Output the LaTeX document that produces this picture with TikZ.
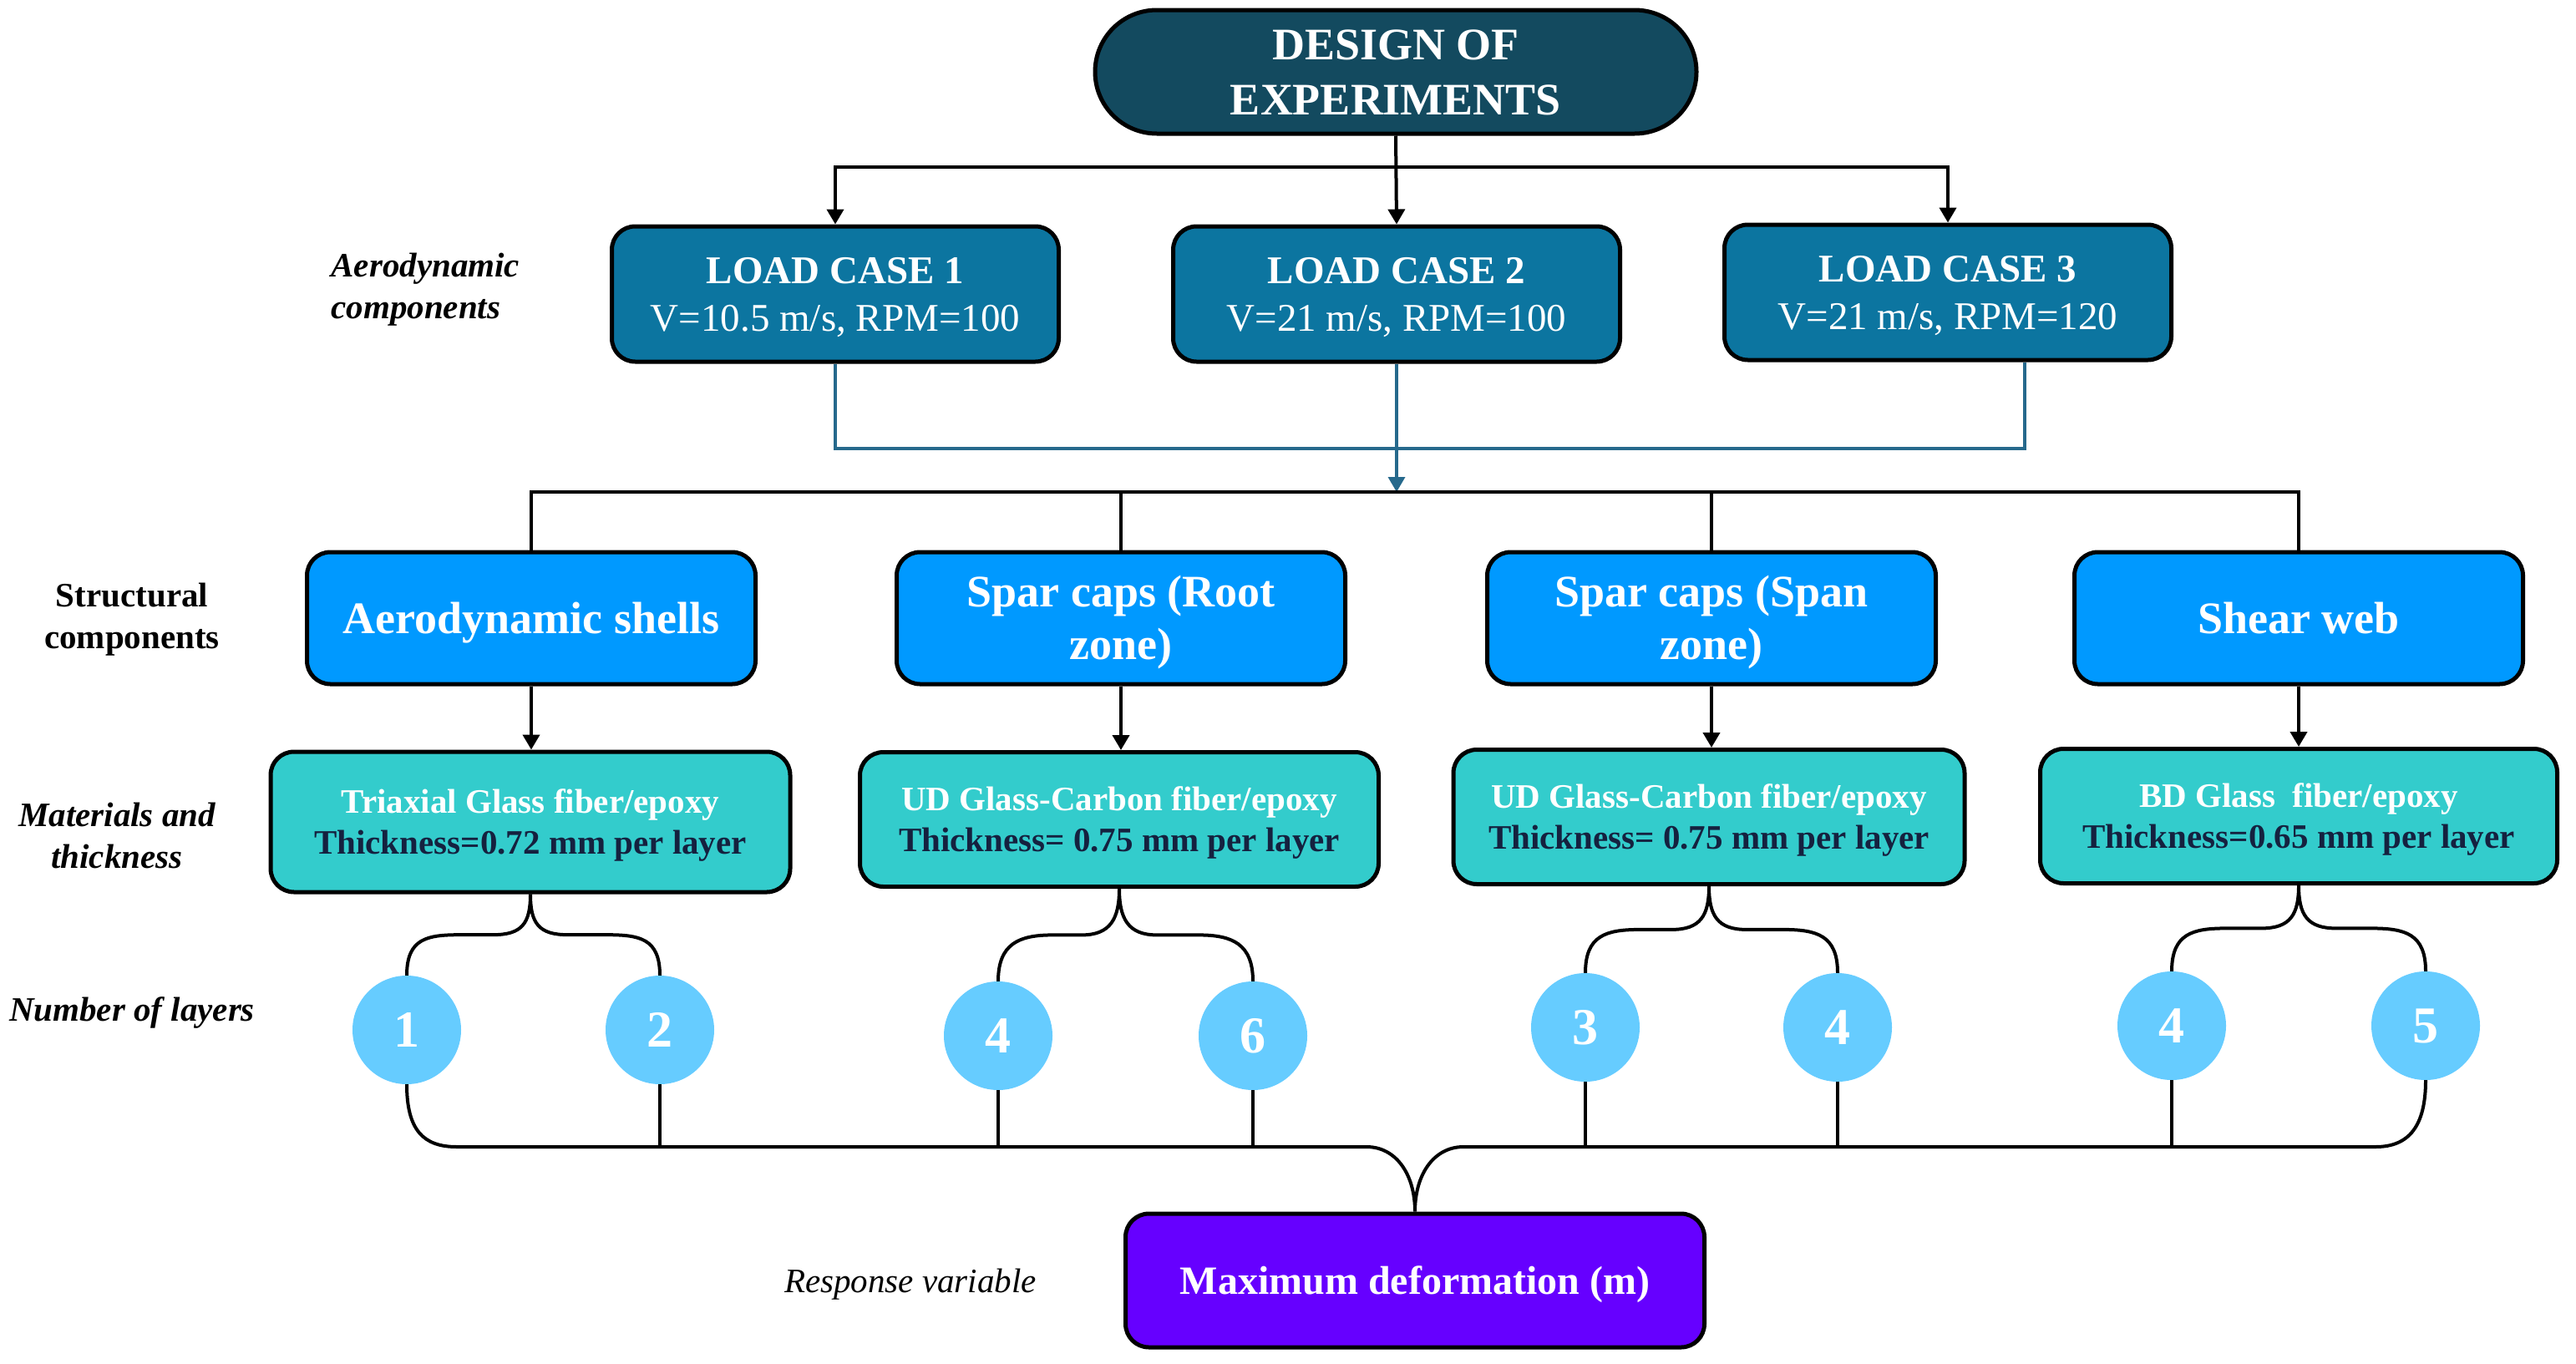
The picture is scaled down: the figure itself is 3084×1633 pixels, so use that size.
\documentclass[tikz,border=0pt]{standalone}
\usepackage{fontspec}
\setmainfont{Liberation Serif}
\usetikzlibrary{arrows.meta,calc}
\definecolor{doe}{HTML}{134A5F}
\definecolor{lcc}{HTML}{0C75A0}
\definecolor{scc}{HTML}{0099FF}
\definecolor{mtc}{HTML}{33CCCC}
\definecolor{cir}{HTML}{66CCFF}
\definecolor{pur}{HTML}{6600FF}
\definecolor{tlc}{HTML}{26698C}
\definecolor{navy}{HTML}{15213F}
\newcommand\myfs[2]{\fontsize{#1}{#2}\selectfont}
\tikzset{
  boxbase/.style={draw=black, line width=5pt, rounded corners=28pt, align=center, inner sep=0pt, text=white},
  doebox/.style={boxbase, fill=doe, minimum width=720pt, minimum height=148pt, rounded corners=74pt, font={\myfs{54}{66}\bfseries}, text height=102pt, text depth=0pt},
  lcbox/.style={boxbase, fill=lcc, minimum width=535pt, minimum height=162pt, font={\myfs{47}{57}}, text height=88pt, text depth=0pt},
  scbox/.style={boxbase, fill=scc, minimum width=537pt, minimum height=158pt, font={\myfs{54}{63}\bfseries}, text height=36pt, text depth=0pt},
  twoline/.style={text height=99pt},
  mtbox/.style={boxbase, fill=mtc, minimum height=161pt, font={\myfs{41}{49}\bfseries}, text height=76pt, text depth=0pt},
  circ/.style={circle, fill=cir, minimum size=130pt, inner sep=0pt, text=white, font={\myfs{62}{62}\bfseries}},
  pvbox/.style={boxbase, fill=pur, minimum width=693pt, minimum height=160pt, font={\myfs{48}{58}\bfseries}, text height=32pt, text depth=0pt},
  lbl/.style={font={\myfs{41}{50}\bfseries\itshape}, align=center, text=black},
  line/.style={draw=black, line width=4pt},
  tip/.style={-{Triangle[length=18pt,width=20pt]}},
  tline/.style={draw=tlc, line width=3.5pt},
}
\newcommand\topbrace[3]{%
  \coordinate (mid) at ($(#1.south)!0.5!(#2.north)$);
  \draw[line] (#2.north) .. controls +(0,-45) and +(-40,0) .. ($(#2.north|-mid)+(65,0)$)
    -- ($(#1.south|-mid)+(-45,0)$) .. controls +(35,0) and +(0,35) .. (#1.south)
    .. controls +(0,35) and +(-35,0) .. ($(#1.south|-mid)+(45,0)$)
    -- ($(#3.north|-mid)+(-65,0)$) .. controls +(40,0) and +(0,-45) .. (#3.north);
}
\begin{document}
\begin{tikzpicture}[x=1pt, y=-1pt]
\fill[white] (0,0) rectangle (3084,1633);
\useasboundingbox (0,0) rectangle (3084,1633);

% top
\node[doebox] (doe) at (1671,86) {DESIGN OF\\EXPERIMENTS};
\node[lcbox] (lc1) at (1000,352) {\textbf{LOAD CASE 1}\\V=10.5 m/s, RPM=100};
\node[lcbox] (lc2) at (1672,352) {\textbf{LOAD CASE 2}\\V=21 m/s, RPM=100};
\node[lcbox] (lc3) at (2332,350) {\textbf{LOAD CASE 3}\\V=21 m/s, RPM=120};
\node[lbl, align=left, anchor=west] (la) at (393,347) {Aerodynamic\\components};

\coordinate (h1) at (1671,200);
\draw[line, {Triangle[length=18pt,width=20pt]}-{Triangle[length=18pt,width=20pt]}] (lc1.north) -- (lc1.north|-h1) -- (lc3.north|-h1) -- (lc3.north);
\draw[line, tip] (doe.south) -- (lc2.north);

% teal connectors
\coordinate (t3) at (2424,537);
\draw[tline] (lc1.south) |- (t3) -- (t3|-lc3.south);
\coordinate (sbus) at (1694,589);
\draw[tline, -{Triangle[length=18pt,width=20pt]}] (lc2.south) -- (lc2.south|-sbus);

% structural
\node[scbox] (s1) at (636,740) {Aerodynamic shells};
\node[scbox, twoline] (s2) at (1342,740) {Spar caps (Root\\zone)};
\node[scbox, twoline] (s3) at (2049,740) {Spar caps (Span\\zone)};
\node[scbox] (s4) at (2752,740) {Shear web};
\node[lbl, font={\myfs{41}{50}\bfseries}] (ls) at (158,742) {Structural\\components};

\draw[line] (s1.north) -- (s1.north|-sbus) -- (s4.north|-sbus) -- (s4.north);
\draw[line] (s2.north) -- (s2.north|-sbus);
\draw[line] (s3.north) -- (s3.north|-sbus);

% materials
\node[mtbox, minimum width=622pt, minimum height=168pt] (m1) at (635,984) {Triaxial Glass fiber/epoxy\\\textcolor{navy}{Thickness=0.72 mm per layer}};
\node[mtbox, minimum width=621pt] (m2) at (1340,981) {UD Glass-Carbon fiber/epoxy\\\textcolor{navy}{Thickness= 0.75 mm per layer}};
\node[mtbox, minimum width=612pt] (m3) at (2046,978) {UD Glass-Carbon fiber/epoxy\\\textcolor{navy}{Thickness= 0.75 mm per layer}};
\node[mtbox, minimum width=619pt] (m4) at (2752,977) {BD Glass~ fiber/epoxy\\\textcolor{navy}{Thickness=0.65 mm per layer}};
\node[lbl] (lm) at (140,1000) {Materials and\\thickness};

\draw[line, tip] (s1.south) -- (s1.south|-m1.north);
\draw[line, tip] (s2.south) -- (s2.south|-m2.north);
\draw[line, tip] (s3.south) -- (s3.south|-m3.north);
\draw[line, tip] (s4.south) -- (s4.south|-m4.north);

% circles
\node[circ] (c1) at (487,1233) {1};
\node[circ] (c2) at (790,1233) {2};
\node[circ] (c3) at (1195,1240) {4};
\node[circ] (c4) at (1500,1240) {6};
\node[circ] (c5) at (1898,1230) {3};
\node[circ] (c6) at (2200,1230) {4};
\node[circ] (c7) at (2600,1228) {4};
\node[circ] (c8) at (2904,1228) {5};
\node[lbl] (ln) at (158,1212) {Number of layers};

\topbrace{m1}{c1}{c2}
\topbrace{m2}{c3}{c4}
\topbrace{m3}{c5}{c6}
\topbrace{m4}{c7}{c8}

% response
\node[pvbox] (pv) at (1694,1533) {Maximum deformation (m)};
\node[lbl, font={\myfs{41}{50}\itshape}] (lr) at (1090,1538) {Response variable};

\coordinate (bb) at (1694,1373);
\draw[line] (c1.south) .. controls +(0,55) and +(-40,0) .. ($(c1.south|-bb)+(60,0)$)
  -- ($(pv.north|-bb)+(-58,0)$) .. controls +(35,0) and +(0,-45) .. (pv.north)
  .. controls +(0,-45) and +(-35,0) .. ($(pv.north|-bb)+(58,0)$)
  -- ($(c8.south|-bb)+(-60,0)$) .. controls +(40,0) and +(0,55) .. (c8.south);
\foreach \c in {c2,c3,c4,c5,c6,c7}{\draw[line] (\c.south) -- (\c.south|-bb);}
\end{tikzpicture}
\end{document}
